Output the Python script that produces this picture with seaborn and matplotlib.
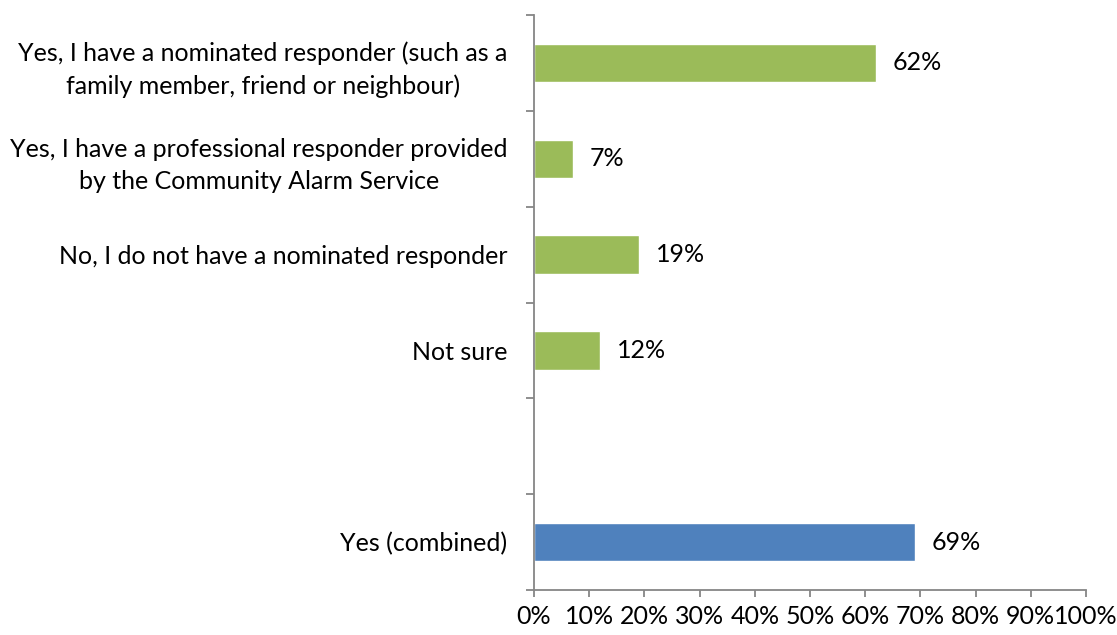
import matplotlib
matplotlib.use("Agg")
import matplotlib.pyplot as plt
import seaborn as sns
import pandas as pd
import numpy as np
from matplotlib.ticker import FixedLocator, PercentFormatter

categories = [
    "Yes, I have a nominated responder (such as a\nfamily member, friend or neighbour)",
    "Yes, I have a professional responder provided\nby the Community Alarm Service",
    "No, I do not have a nominated responder",
    "Not sure",
    " ",
    "Yes (combined)",
]
values = [62, 7, 19, 12, np.nan, 69]
bar_colors = ["#9BBB59", "#9BBB59", "#9BBB59", "#9BBB59", "#9BBB59", "#4F81BD"]
x_ticks = list(range(0, 101, 10))

sns.set_theme(style="white")
plt.rcParams["font.family"] = ["Lato", "DejaVu Sans"]

FS = 18

df = pd.DataFrame({"cat": categories, "val": values})

fig = plt.figure(figsize=(11.17, 6.35), dpi=100)
ax = fig.add_axes([534/1117, 45/635, (1086-534)/1117, 575/635])

sns.barplot(data=df, y="cat", x="val", hue="cat", order=categories,
            hue_order=categories, palette=dict(zip(categories, bar_colors)),
            width=0.4, legend=False, ax=ax, orient="h", saturation=1)

for c in ax.containers:
    ax.bar_label(c, labels=[f"{v:.0f}%" if not np.isnan(v) else "" for v in c.datavalues],
                 padding=12, fontsize=FS, color="black")

ax.set_xlim(0, 100)
ax.set_ylim(len(categories) - 0.5, -0.5)
ax.set_xlabel("")
ax.set_ylabel("")
ax.xaxis.set_major_locator(FixedLocator(x_ticks))
ax.xaxis.set_major_formatter(PercentFormatter(decimals=0))
ax.set_yticks(range(len(categories)))
ax.set_yticklabels(categories, fontsize=FS, ha="right", multialignment="center",
                   linespacing=1.5, color="black")
ax.tick_params(axis="y", which="major", length=0, pad=19)
ax.yaxis.set_minor_locator(FixedLocator(np.arange(-0.5, len(categories), 1.0)))
ax.tick_params(axis="y", which="minor", length=6, width=1.3, color="#868686", direction="out", left=True)
ax.tick_params(axis="x", which="major", length=5, width=1.3, color="#868686", direction="out",
               bottom=True, labelsize=FS, pad=6, labelcolor="black")

for s in ["top", "right"]:
    ax.spines[s].set_visible(False)
for s in ["left", "bottom"]:
    ax.spines[s].set_color("#868686")
    ax.spines[s].set_linewidth(1.3)

fig.savefig("out.png", dpi=100)
